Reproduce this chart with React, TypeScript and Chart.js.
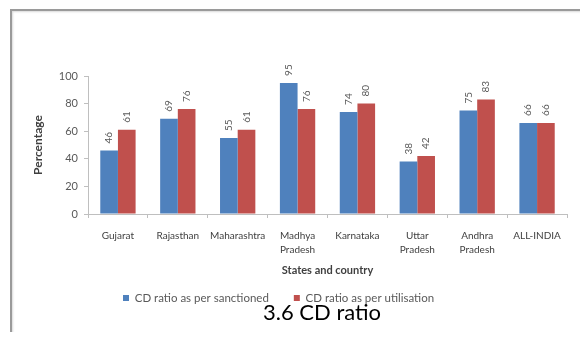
import React, { useEffect, useRef } from "react";
import { Chart, registerables } from "chart.js";

Chart.register(...registerables);

const categories: (string | string[])[] = [
  "Gujarat",
  "Rajasthan",
  "Maharashtra",
  ["Madhya", "Pradesh"],
  "Karnataka",
  ["Uttar", "Pradesh"],
  ["Andhra", "Pradesh"],
  "ALL-INDIA",
];
const sanctioned = [46, 69, 55, 95, 74, 38, 75, 66];
const utilisation = [61, 76, 61, 76, 80, 42, 83, 66];
const seriesNames = ["CD ratio as per sanctioned", "CD ratio as per utilisation"];
const yTicks = [0, 20, 40, 60, 80, 100];
const chartTitle = "3.6 CD ratio";
const xTitle = "States and country";
const yTitle = "Percentage";

const FONT = "Lato, 'Open Sans', 'Liberation Sans', sans-serif";

const valueLabels = {
  id: "valueLabels",
  afterDatasetsDraw(chart: any) {
    const ctx = chart.ctx;
    ctx.save();
    ctx.font = `10px ${FONT}`;
    ctx.fillStyle = "#595959";
    ctx.textAlign = "left";
    ctx.textBaseline = "middle";
    chart.data.datasets.forEach((ds: any, di: number) => {
      const meta = chart.getDatasetMeta(di);
      meta.data.forEach((el: any, i: number) => {
        const v = ds.data[i];
        ctx.save();
        ctx.translate(el.x, el.y - 7);
        ctx.rotate(-Math.PI / 2);
        ctx.fillText(String(v), 0, 0);
        ctx.restore();
      });
    });
    ctx.restore();
  },
};

const placeBlocks = {
  id: "placeBlocks",
  afterLayout(chart: any) {
    const lg = chart.legend;
    if (lg) {
      const pad = lg.options.labels.padding;
      lg.top = 298 - pad - 5.75;
      lg.bottom = lg.top + 60;
      lg.left = 123 - pad;
      lg.right = 588;
      lg.width = lg.right - lg.left;
      lg.height = 60;
    }
    const tb = chart.titleBlock;
    if (tb) {
      tb.top = 313 - 12;
      tb.bottom = tb.top + 24;
      tb.left = 263;
      tb.right = 588;
      tb.width = tb.right - tb.left;
      tb.height = 24;
    }
  },
};

export default function App() {
  const ref = useRef<HTMLCanvasElement>(null);
  useEffect(() => {
    if (!ref.current) return;
    const chart = new Chart(ref.current, {
      type: "bar",
      data: {
        labels: categories,
        datasets: [
          {
            label: seriesNames[0],
            data: sanctioned,
            backgroundColor: "#4F81BD",
            borderWidth: 0,
            categoryPercentage: 0.59,
            barPercentage: 1,
          },
          {
            label: seriesNames[1],
            data: utilisation,
            backgroundColor: "#C0504D",
            borderWidth: 0,
            categoryPercentage: 0.59,
            barPercentage: 1,
          },
        ],
      },
      options: {
        responsive: false,
        animation: false,
        devicePixelRatio: 1,
        layout: { padding: { left: 12, right: 21, top: 76, bottom: 0 } },
        plugins: {
          tooltip: { enabled: false },
          legend: {
            position: "bottom",
            align: "start",
            maxHeight: 22,
            labels: {
              boxWidth: 6,
              boxHeight: 6,
              padding: 25,
              color: "#595959",
              font: { family: FONT, size: 11.5 },
            },
          },
          title: {
            display: true,
            text: chartTitle,
            position: "bottom",
            align: "start",
            color: "#000000",
            padding: { top: 0, bottom: 0 },
            font: { family: FONT, size: 22, weight: "normal", lineHeight: 24 / 22 },
          },
        },
        scales: {
          x: {
            grid: {
              display: true,
              drawOnChartArea: false,
              tickLength: 4,
              color: "#bfbfbf",
              offset: true,
            },
            border: { color: "#bfbfbf" },
            ticks: {
              color: "#404040",
              padding: 11,
              maxRotation: 0,
              autoSkip: false,
              font: { family: FONT, size: 10, lineHeight: 1.4 },
            },
            title: {
              display: true,
              text: xTitle,
              color: "#404040",
              padding: { top: 0, bottom: 17 },
              font: { family: FONT, size: 11, weight: "bold" },
            },
            afterFit(scale: any) {
              scale.height = 80;
            },
          },
          y: {
            min: 0,
            max: 100,
            afterBuildTicks(scale: any) {
              scale.ticks = yTicks.map((v) => ({ value: v }));
            },
            grid: {
              display: true,
              drawOnChartArea: false,
              tickLength: 4,
              color: "#bfbfbf",
            },
            border: { color: "#bfbfbf" },
            ticks: {
              color: "#595959",
              padding: 6,
              font: { family: FONT, size: 11 },
            },
            title: {
              display: true,
              text: yTitle,
              color: "#404040",
              padding: { top: 19, bottom: 0 },
              font: { family: FONT, size: 12, weight: "bold" },
            },
            afterFit(scale: any) {
              scale.width = 76;
            },
          },
        },
      },
      plugins: [valueLabels, placeBlocks],
    });
    return () => chart.destroy();
  }, []);

  return (
    <div
      style={{
        position: "relative",
        width: 588,
        height: 340,
        margin: -8,
        background: "#ffffff",
        overflow: "hidden",
      }}
    >
      <div
        style={{
          position: "absolute",
          left: 10,
          top: 9,
          width: 620,
          height: 380,
          border: "2px solid #9a9a9a",
          boxShadow: "inset 1px 1px 2px rgba(0,0,0,0.15)",
        }}
      />
      <canvas
        ref={ref}
        width={588}
        height={340}
        style={{ position: "absolute", left: 0, top: 0, width: 588, height: 340 }}
      />
    </div>
  );
}
